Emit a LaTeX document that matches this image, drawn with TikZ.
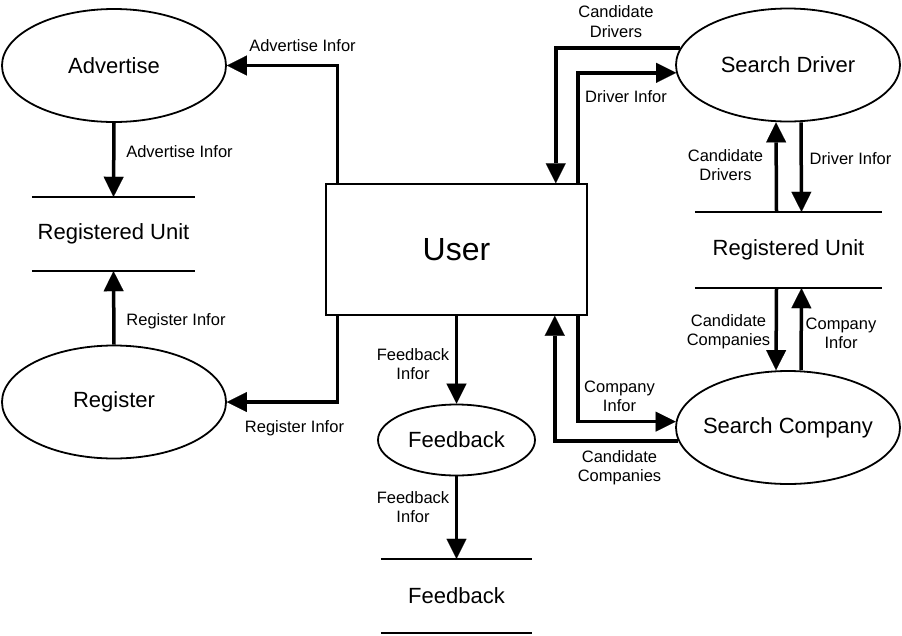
\documentclass[tikz,border=0pt]{standalone}
\usepackage{fontspec}
\setmainfont{Liberation Sans}
\usetikzlibrary{shapes.geometric,arrows.meta}

\begin{document}
\begin{tikzpicture}[x=1pt,y=-1pt]
        \tikzset{
        dfd proc/.style={ellipse,draw,line width=1.8pt,minimum width=224pt,minimum height=113pt,inner sep=0,font=\fontsize{22}{26}\selectfont},
        dfd store/.style={inner sep=0,font=\fontsize{22}{26}\selectfont},
        dfd line/.style={line width=1.8pt},
        dfd flow/.style={line width=3.5pt,-{Triangle[length=20pt,width=20pt,line width=0.1pt]}},
        dfd label/.style={align=center,inner sep=0,font=\fontsize{16.5}{19.5}\selectfont}
        }
        \useasboundingbox (0,0) rectangle (902,635);

        \node[draw,line width=1.5pt,minimum width=261pt,minimum height=131pt,font=\fontsize{32}{38}\selectfont] (U) at (456.5,249.5) {User};
        \node[dfd proc] (A) at (114,65.5) {Advertise};
        \node[dfd proc] (R) at (114,402) {Register};
        \node[dfd proc] (SD) at (788,65) {\makebox[0pt]{Search Driver}};
        \node[dfd proc] (SC) at (788,427.5) {\makebox[0pt]{Search Company}};
        \node[dfd proc,minimum width=157pt,minimum height=71pt] (F) at (456.5,440) {\makebox[0pt]{Feedback}};

        \node[dfd store,minimum width=163pt,minimum height=74pt] (RU1) at (113.5,234) {Registered Unit};
        \node[dfd store,minimum width=187pt,minimum height=76pt] (RU2) at (788.5,250) {Registered Unit};
        \node[dfd store,minimum width=151pt,minimum height=74pt] (FS) at (456.5,596) {Feedback};

        \foreach \s in {RU1,RU2,FS}
        {
        \draw[dfd line] (\s.north west) -- (\s.north east);
        \draw[dfd line] (\s.south west) -- (\s.south east);
        }

        \draw[dfd flow] ([xshift=12pt]U.north west) |- (A.east);
        \draw[dfd flow] ([xshift=12pt]U.south west) |- (R.east);
        \draw[dfd flow] (A.south) -- (RU1.north);
        \draw[dfd flow] (R.north) -- (RU1.south);
        \draw[dfd flow] (U.south) -- (F.north);
        \draw[dfd flow] (F.south) -- (FS.north);

        \draw[dfd flow] (SD.171) -| ([xshift=-32pt]U.north east);
        \draw[dfd flow] ([xshift=-10pt]U.north east) |- (SD.184);
        \draw[dfd flow] ([xshift=-10pt]U.south east) |- (SC.177);
        \draw[dfd flow] (SC.187) -| ([xshift=-33pt]U.south east);

        \draw[dfd flow] ([xshift=-12pt]RU2.north) -- ([xshift=-12pt]SD.south);
        \draw[dfd flow] ([xshift=13pt]SD.south) -- ([xshift=13pt]RU2.north);
        \draw[dfd flow] ([xshift=-12pt]RU2.south) -- ([xshift=-12pt]SC.north);
        \draw[dfd flow] ([xshift=13pt]SC.north) -- ([xshift=13pt]RU2.south);

        \node[dfd label] (l1) at (302.5,46) {Advertise Infor};
        \node[dfd label] (l2) at (179.5,152) {Advertise Infor};
        \node[dfd label] (l3) at (176,321) {Register Infor};
        \node[dfd label] (l4) at (294.5,428) {Register Infor};
        \node[dfd label] (l5) at (413,364) {Feedback\\Infor};
        \node[dfd label] (l6) at (413,507) {Feedback\\Infor};
        \node[dfd label] (l7) at (616,21.5) {Candidate\\Drivers};
        \node[dfd label] (l8) at (626,97) {Driver Infor};
        \node[dfd label] (l9) at (725.5,165) {Candidate\\Drivers};
        \node[dfd label] (l10) at (850.5,159) {Driver Infor};
        \node[dfd label] (l11) at (728.5,331.5) {Candidate\\Companies};
        \node[dfd label] (l12) at (841,333.5) {Company\\Infor};
        \node[dfd label] (l13) at (619.5,396.5) {Company\\Infor};
        \node[dfd label] (l14) at (619.5,467.5) {Candidate\\Companies};
    \end{tikzpicture}
\end{document}
